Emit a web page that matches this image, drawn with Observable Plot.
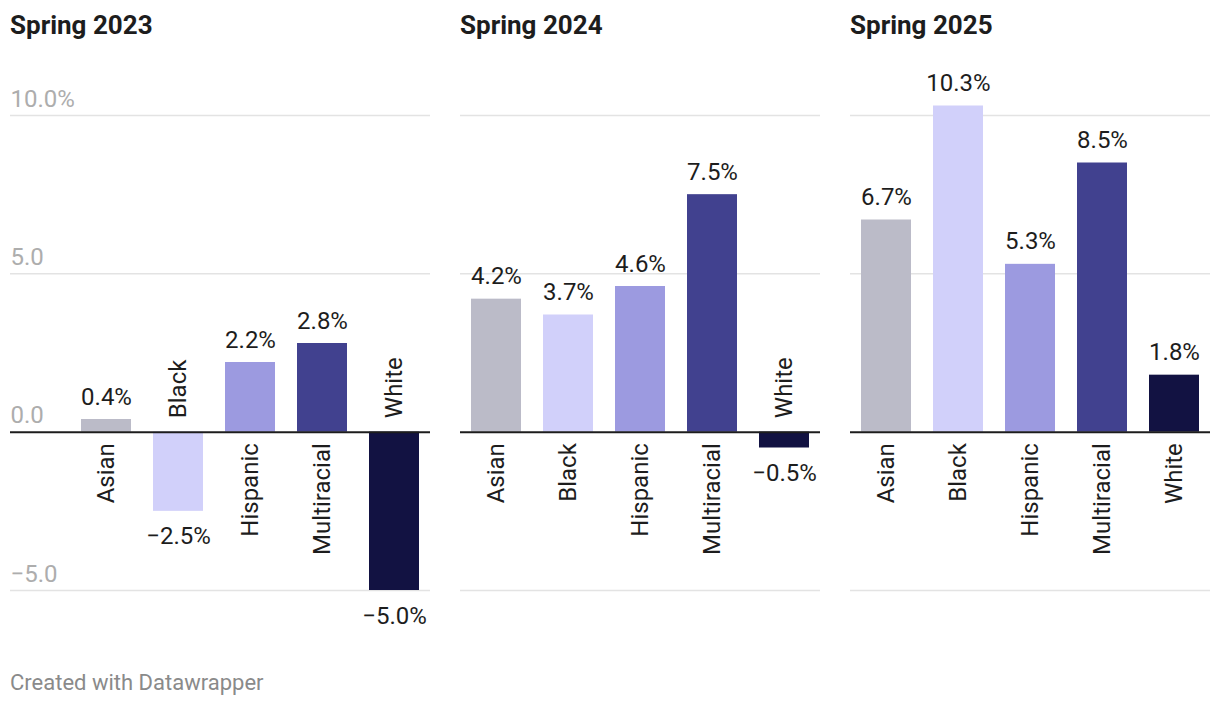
<!DOCTYPE html>
<html>
<head>
<meta charset="utf-8">
<script src="https://cdn.jsdelivr.net/npm/d3@7"></script>
<script src="https://cdn.jsdelivr.net/npm/@observablehq/plot@0.6"></script>
<style>
  html, body { margin: 0; padding: 0; background: #fff; }
  body { width: 1220px; height: 708px; position: relative; overflow: hidden; font-family: Roboto, "Noto Sans", sans-serif; }
  .title { position: absolute; top: 12px; font-size: 26px; line-height: 26px; font-weight: 700; color: #1d1d1d; white-space: nowrap; }
  .panel { position: absolute; top: 50px; }
  .footer { position: absolute; left: 10px; top: 672px; font-size: 22px; line-height: 22px; color: #8a8a8a; }
</style>
</head>
<body>
<script>
const years = ["Spring 2023", "Spring 2024", "Spring 2025"];
const groups = ["Asian", "Black", "Hispanic", "Multiracial", "White"];
const values2023 = [0.4, -2.5, 2.2, 2.8, -5.0];
const values2024 = [4.2, 3.7, 4.6, 7.5, -0.5];
const values2025 = [6.7, 10.3, 5.3, 8.5, 1.8];
const colors = ["#bbbbc8", "#d1d0fa", "#9c9ae0", "#41418f", "#121242"];
const gridValues = [10, 5, -5];
const tickValues = [10, 5, 0, -5];
const tickLabels = ["10.0%", "5.0", "0.0", "\u22125.0"];
const footerText = "Created with Datawrapper";

const fmt = v => (v < 0 ? "\u2212" : "") + Math.abs(v).toFixed(1) + "%";

const panels = [
  {title: years[0], values: values2023, left: 0, width: 440, marginLeft: 70, axis: true},
  {title: years[1], values: values2024, left: 450, width: 380, marginLeft: 10, axis: false},
  {title: years[2], values: values2025, left: 840, width: 380, marginLeft: 10, axis: false}
];

for (const p of panels) {
  const data = groups.map((g, i) => ({group: g, value: p.values[i]}));
  const pos = data.filter(d => d.value >= 0);
  const neg = data.filter(d => d.value < 0);
  const inset = p.axis ? -60 : 0;
  const marks = [
    Plot.ruleY(gridValues, {stroke: "#e3e3e3", strokeWidth: 1.5, insetLeft: inset}),
    Plot.barY(data, {x: "group", y: "value", fill: "group"}),
    Plot.ruleY([0], {stroke: "#1d1d1d", strokeWidth: 2, insetLeft: inset}),
    Plot.text(pos, {x: "group", y: "value", text: d => fmt(d.value), lineAnchor: "bottom", dy: -15, fontSize: 24, fill: "#1d1d1d"}),
    Plot.text(neg, {x: "group", y: "value", text: d => fmt(d.value), lineAnchor: "top", dy: 16, fontSize: 24, fill: "#1d1d1d"}),
    Plot.text(pos, {x: "group", y: d => 0, text: "group", rotate: -90, textAnchor: "end", lineAnchor: "middle", dy: 11, fontSize: 24, fill: "#1d1d1d"}),
    Plot.text(neg, {x: "group", y: d => 0, text: "group", rotate: -90, textAnchor: "start", lineAnchor: "middle", dy: -14, fontSize: 24, fill: "#1d1d1d"})
  ];
  if (p.axis) {
    marks.push(Plot.text(tickValues, {y: d => d, text: (d, i) => tickLabels[i], frameAnchor: "left", dx: -60, dy: -9, textAnchor: "start", lineAnchor: "bottom", fontSize: 24, fill: "#adadad"}));
  }
  const chart = Plot.plot({
    width: p.width,
    height: 600,
    marginTop: 65,
    marginBottom: 60,
    marginLeft: p.marginLeft,
    marginRight: 10,
    style: {fontFamily: "Roboto, sans-serif", background: "transparent", overflow: "visible"},
    x: {domain: groups, paddingInner: 0.3, paddingOuter: 0.15, axis: null},
    y: {domain: [-5, 10], axis: null},
    color: {domain: groups, range: colors},
    marks
  });
  const wrap = document.createElement("div");
  wrap.className = "panel";
  wrap.style.left = p.left + "px";
  wrap.appendChild(chart);
  document.body.appendChild(wrap);

  const t = document.createElement("div");
  t.className = "title";
  t.style.left = (p.left + p.marginLeft + (p.axis ? -60 : 0)) + "px";
  t.textContent = p.title;
  document.body.appendChild(t);
}

const f = document.createElement("div");
f.className = "footer";
f.textContent = footerText;
document.body.appendChild(f);
</script>
</body>
</html>
